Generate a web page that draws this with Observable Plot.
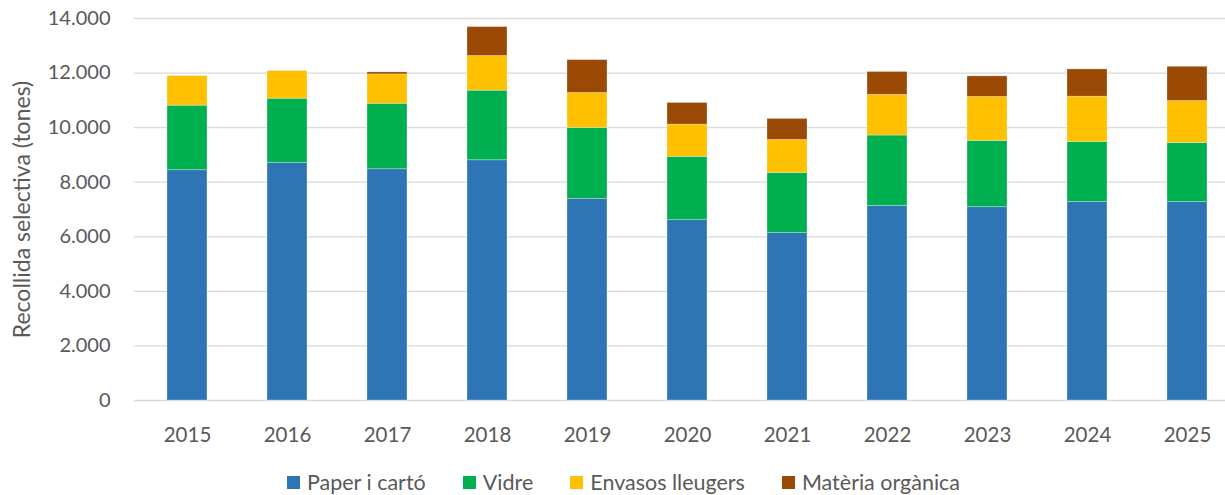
<!DOCTYPE html>
<html>
<head>
<meta charset="utf-8">
<script src="https://cdn.jsdelivr.net/npm/d3@7"></script>
<script src="https://cdn.jsdelivr.net/npm/@observablehq/plot@0.6"></script>
<style>
  html, body { margin: 0; padding: 0; background: #fff; overflow: hidden; }
  #chart { width: 1225px; }
  .legend { display: flex; justify-content: center; align-items: center; gap: 37px;
    font-family: Lato, "Open Sans", sans-serif; font-size: 21.5px; color: #595959;
    height: 24px; line-height: 24px; padding-left: 22px; }
  .legend .item { display: flex; align-items: center; gap: 7px; }
  .legend .sw { width: 13px; height: 13px; display: inline-block; }
</style>
</head>
<body>
<div id="chart"></div>
<script>
const years = ["2015","2016","2017","2018","2019","2020","2021","2022","2023","2024","2025"];
const categories = ["Paper i cartó", "Vidre", "Envasos lleugers", "Matèria orgànica"];
const colors = ["#2E75B6", "#00B050", "#FFC000", "#9A4A05"];
const paper    = [8440, 8700, 8475, 8805, 7390, 6610, 6135, 7125, 7085, 7270, 7270];
const vidre    = [2365, 2360, 2400, 2550, 2600, 2320, 2205, 2585, 2430, 2205, 2170];
const envasos  = [1085, 1015, 1075, 1270, 1280, 1180, 1210, 1490, 1610, 1660, 1535];
const organica = [   0,    0,   75, 1060, 1205,  795,  770,  840,  755, 1000, 1255];
const yTicks = [0, 2000, 4000, 6000, 8000, 10000, 12000, 14000];
const yLabel = "Recollida selectiva (tones)";

const series = [paper, vidre, envasos, organica];
const data = [];
years.forEach((yr, i) => {
  categories.forEach((c, k) => data.push({year: yr, category: c, value: series[k][i]}));
});

const fmt = d3.formatLocale({decimal: ",", thousands: ".", grouping: [3], currency: ["", "€"]}).format(",");

const chart = Plot.plot({
  width: 1225,
  height: 470,
  marginLeft: 134,
  marginRight: -14,
  marginTop: 18,
  marginBottom: 70,
  style: {fontFamily: "Lato, 'Open Sans', sans-serif", fontSize: "20px", color: "#595959", background: "#fff"},
  x: {domain: years, paddingInner: 0.6, paddingOuter: 0.3, align: 0.5},
  y: {domain: [0, 14000]},
  color: {domain: categories, range: colors},
  marks: [
    Plot.gridY(yTicks, {stroke: "#D9D9D9", strokeOpacity: 1, strokeWidth: 1.3}),
    Plot.barY(data, {x: "year", y: "value", fill: "category", stroke: "#ffffff", strokeOpacity: 0.35, strokeWidth: 0.8}),
    Plot.axisX({tickSize: 0, tickPadding: 27, fill: "#595959", fontSize: 20.5, label: null}),
    Plot.axisY({ticks: yTicks, tickFormat: fmt, tickSize: 0, tickPadding: 24, fill: "#595959", fontSize: 20, label: null}),
    Plot.axisY({ticks: [], tickSize: 0, label: yLabel, labelAnchor: "center", labelArrow: "none",
      labelOffset: 121, fontSize: 23, fill: "#595959"})
  ]
});
document.getElementById("chart").appendChild(chart);

const legend = document.createElement("div");
legend.className = "legend";
categories.forEach((c, k) => {
  const it = document.createElement("span");
  it.className = "item";
  const sw = document.createElement("span");
  sw.className = "sw";
  sw.style.background = colors[k];
  const t = document.createElement("span");
  t.textContent = c;
  it.appendChild(sw); it.appendChild(t);
  legend.appendChild(it);
});
document.body.appendChild(legend);
</script>
</body>
</html>
